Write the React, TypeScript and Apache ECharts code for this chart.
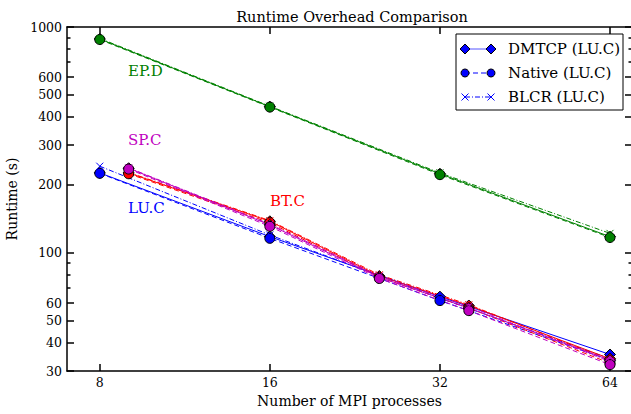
import React, { useEffect, useRef } from "react";
import * as echarts from "echarts";

const procsA = [8, 16, 32, 64];
const procsB = [9, 16, 25, 36, 64];

const epDmtcp = [885, 444, 224, 118];
const epNative = [880, 442, 222, 117];
const epBlcr = [890, 446, 226, 122];

const luDmtcp = [226, 118, 64, 35.5];
const luNative = [225, 116, 61.5, 33.5];
const luBlcr = [242, 120, 63, 34];

const spDmtcp = [237, 133, 78, 57, 33.5];
const spNative = [235, 131, 77, 55.5, 32];
const spBlcr = [238, 134, 79, 58, 33];

const btDmtcp = [226, 138, 79, 58.5, 34];
const btNative = [224, 136, 78, 57, 32.5];
const btBlcr = [227, 139, 80, 59, 33.5];

const xTicks = [8, 16, 32, 64];
const yLabelTicks = [30, 40, 50, 60, 100, 200, 300, 400, 500, 600, 1000];
const yMinorTicks = [70, 80, 90, 700, 800, 900];

const FONT = "DejaVu Serif";
const X_PATH = "path://M0,0L10,10M10,0L0,10";

const zip = (xs: number[], ys: number[]) => xs.map((x, i) => [x, ys[i]]);

function makeSeries(name: string, xs: number[], ys: number[], color: string, kind: string) {
  const base: any = {
    name,
    type: "line",
    data: zip(xs, ys),
    xAxisIndex: 0,
    yAxisIndex: 0,
    lineStyle: { color, width: 1 },
    showSymbol: true,
  };
  if (kind === "dmtcp") {
    base.symbol = "diamond";
    base.symbolSize = 11;
    base.lineStyle.type = "solid";
    base.itemStyle = { color, borderColor: "#000", borderWidth: 1 };
  } else if (kind === "native") {
    base.symbol = "circle";
    base.symbolSize = 10;
    base.lineStyle.type = [5, 3];
    base.itemStyle = { color, borderColor: "#000", borderWidth: 1 };
  } else {
    base.symbol = X_PATH;
    base.symbolSize = 7;
    base.lineStyle.type = [5, 2, 1, 2];
    base.itemStyle = { color: "none", borderColor: color, borderWidth: 1 };
  }
  return base;
}

const GREEN = "#008000";
const MAGENTA = "#bf00bf";
const RED = "#ff0000";
const BLUE = "#0000ff";

export default function App() {
  const ref = useRef<HTMLDivElement>(null);
  useEffect(() => {
    if (!ref.current) return;
    const chart = echarts.init(ref.current, null, { renderer: "svg" });
    const gridLeft = 67, gridTop = 27, gridW = 565, gridH = 344;
    const axisLine = { show: true, lineStyle: { color: "#000", width: 1.5 } };
    const legX = 456, legY = 34, legW = 167, legH = 76;
    const rows = [
      { label: "DMTCP (LU.C)", y: 49, kind: "dmtcp" },
      { label: "Native (LU.C)", y: 73, kind: "native" },
      { label: "BLCR (LU.C)", y: 97, kind: "blcr" },
    ];
    const legendEls: any[] = [
      {
        type: "rect",
        shape: { x: legX, y: legY, width: legW, height: legH },
        style: { fill: "#fff", stroke: "#000", lineWidth: 1 },
        z: 100,
      },
    ];
    rows.forEach((r) => {
      const lineDash = r.kind === "dmtcp" ? null : r.kind === "native" ? [5, 3] : [5, 2, 1, 2];
      legendEls.push({
        type: "line",
        shape: { x1: 465, y1: r.y, x2: 491, y2: r.y },
        style: { stroke: r.kind === "dmtcp" ? "#5555ff" : BLUE, lineWidth: 1, lineDash },
        z: 101,
      });
      [465, 491].forEach((cx) => {
        if (r.kind === "dmtcp") {
          legendEls.push({
            type: "polygon",
            shape: { points: [[cx, r.y - 5], [cx + 5, r.y], [cx, r.y + 5], [cx - 5, r.y]] },
            style: { fill: BLUE, stroke: "#000", lineWidth: 1 },
            z: 102,
          });
        } else if (r.kind === "native") {
          legendEls.push({
            type: "circle",
            shape: { cx, cy: r.y, r: 4 },
            style: { fill: BLUE, stroke: "#000", lineWidth: 1 },
            z: 102,
          });
        } else {
          legendEls.push({
            type: "line",
            shape: { x1: cx - 3.5, y1: r.y - 3.5, x2: cx + 3.5, y2: r.y + 3.5 },
            style: { stroke: BLUE, lineWidth: 1 },
            z: 102,
          });
          legendEls.push({
            type: "line",
            shape: { x1: cx - 3.5, y1: r.y + 3.5, x2: cx + 3.5, y2: r.y - 3.5 },
            style: { stroke: BLUE, lineWidth: 1 },
            z: 102,
          });
        }
      });
      legendEls.push({
        type: "text",
        x: 508,
        y: r.y,
        style: { text: r.label, font: `15px "${FONT}"`, fill: "#000", verticalAlign: "middle", align: "left" },
        z: 102,
      });
    });
    const annot = (text: string, x: number, y: number, color: string) => ({
      type: "text",
      x,
      y,
      style: { text, font: `15px "${FONT}"`, fill: color, verticalAlign: "middle", align: "left" },
      z: 50,
    });
    const fmt = (v: any) => String(v);

    const option: any = {
      animation: false,
      backgroundColor: "#fff",
      title: {
        text: "Runtime Overhead Comparison",
        left: 347,
        textAlign: "center",
        top: 4,
        textStyle: { fontFamily: FONT, fontSize: 14.5, fontWeight: "normal", color: "#000" },
      },
      grid: {
        left: gridLeft,
        top: gridTop,
        width: gridW,
        height: gridH,
        containLabel: false,
        outerBoundsMode: "none",
      },
      xAxis: [
        {
          type: "log",
          logBase: 2,
          min: 7,
          max: 70,
          position: "bottom",
          name: "Number of MPI processes",
          nameLocation: "middle",
          nameGap: 22,
          nameTextStyle: { fontFamily: FONT, fontSize: 14, color: "#000" },
          axisLine,
          axisTick: { show: true, inside: true, length: 7, customValues: xTicks, lineStyle: { color: "#000", width: 1.5 } },
          axisLabel: { show: true, customValues: xTicks, formatter: fmt, fontFamily: FONT, fontSize: 12.5, color: "#000", margin: 5 },
          splitLine: { show: false },
        },
        {
          type: "log",
          logBase: 2,
          min: 7,
          max: 70,
          position: "top",
          axisLine,
          axisTick: { show: true, inside: true, length: 7, customValues: xTicks, lineStyle: { color: "#000", width: 1.5 } },
          axisLabel: { show: false },
          splitLine: { show: false },
        },
      ],
      yAxis: [
        {
          type: "log",
          logBase: 10,
          min: 30,
          max: 1000,
          position: "left",
          name: "Runtime (s)",
          nameLocation: "middle",
          nameGap: 45,
          nameTextStyle: { fontFamily: FONT, fontSize: 14, color: "#000" },
          axisLine,
          axisTick: { show: true, inside: true, length: 7, customValues: yLabelTicks, lineStyle: { color: "#000", width: 1.5 } },
          axisLabel: { show: true, customValues: yLabelTicks, formatter: fmt, fontFamily: FONT, fontSize: 12.5, color: "#000", margin: 5 },
          splitLine: { show: false },
        },
        {
          type: "log",
          logBase: 10,
          min: 30,
          max: 1000,
          position: "right",
          axisLine,
          axisTick: { show: true, inside: true, length: 7, customValues: yLabelTicks, lineStyle: { color: "#000", width: 1.5 } },
          axisLabel: { show: false },
          splitLine: { show: false },
        },
        {
          type: "log",
          logBase: 10,
          min: 30,
          max: 1000,
          position: "left",
          axisLine: { show: false },
          axisTick: { show: true, inside: true, length: 3.5, customValues: yMinorTicks, lineStyle: { color: "#000", width: 1.5 } },
          axisLabel: { show: false },
          splitLine: { show: false },
        },
        {
          type: "log",
          logBase: 10,
          min: 30,
          max: 1000,
          position: "right",
          axisLine: { show: false },
          axisTick: { show: true, inside: true, length: 3.5, customValues: yMinorTicks, lineStyle: { color: "#000", width: 1.5 } },
          axisLabel: { show: false },
          splitLine: { show: false },
        },
      ],
      series: [
        makeSeries("DMTCP (EP.D)", procsA, epDmtcp, GREEN, "dmtcp"),
        makeSeries("Native (EP.D)", procsA, epNative, GREEN, "native"),
        makeSeries("BLCR (EP.D)", procsA, epBlcr, GREEN, "blcr"),
        makeSeries("DMTCP (LU.C)", procsA, luDmtcp, BLUE, "dmtcp"),
        makeSeries("Native (LU.C)", procsA, luNative, BLUE, "native"),
        makeSeries("BLCR (LU.C)", procsA, luBlcr, BLUE, "blcr"),
        makeSeries("DMTCP (BT.C)", procsB, btDmtcp, RED, "dmtcp"),
        makeSeries("Native (BT.C)", procsB, btNative, RED, "native"),
        makeSeries("BLCR (BT.C)", procsB, btBlcr, RED, "blcr"),
        makeSeries("DMTCP (SP.C)", procsB, spDmtcp, MAGENTA, "dmtcp"),
        makeSeries("Native (SP.C)", procsB, spNative, MAGENTA, "native"),
        makeSeries("BLCR (SP.C)", procsB, spBlcr, MAGENTA, "blcr"),
      ],
      graphic: [
        annot("EP.D", 128, 71, GREEN),
        annot("SP.C", 128, 140, MAGENTA),
        annot("LU.C", 128, 208, BLUE),
        annot("BT.C", 270, 201, RED),
        ...legendEls,
      ],
    };
    chart.setOption(option);
    return () => chart.dispose();
  }, []);
  return (
    <div
      ref={ref}
      style={{ position: "fixed", left: 0, top: 0, width: 631, height: 414, background: "#fff" }}
    />
  );
}
